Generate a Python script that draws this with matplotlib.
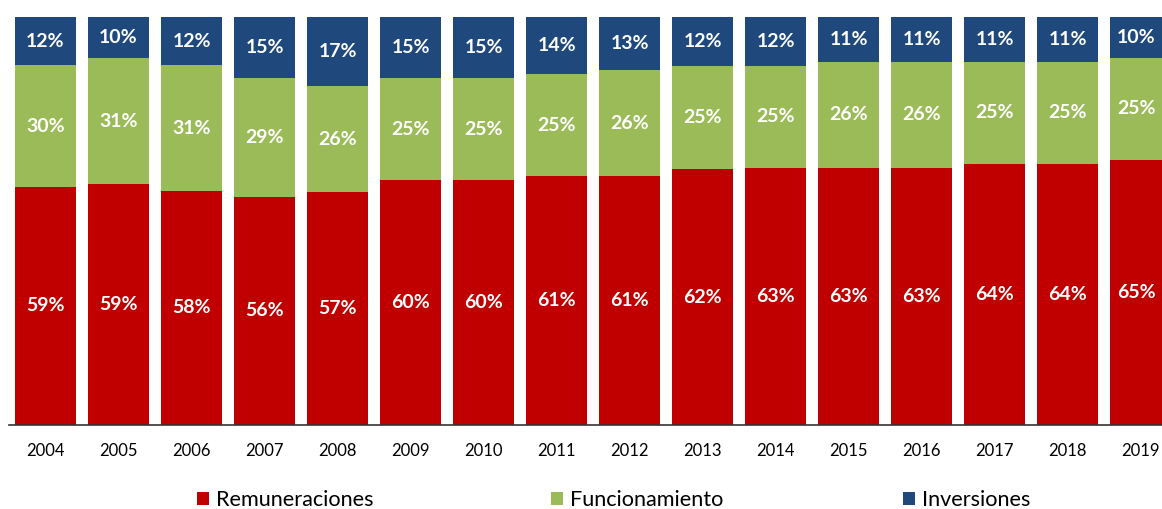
import matplotlib.pyplot as plt
import numpy as np

plt.rcParams['font.family'] = ['Lato', 'DejaVu Sans']

years = ['2004', '2005', '2006', '2007', '2008', '2009', '2010', '2011',
         '2012', '2013', '2014', '2015', '2016', '2017', '2018', '2019']
remuneraciones = [59, 59, 58, 56, 57, 60, 60, 61, 61, 62, 63, 63, 63, 64, 64, 65]
funcionamiento = [30, 31, 31, 29, 26, 25, 25, 25, 26, 25, 25, 26, 26, 25, 25, 25]
inversiones = [12, 10, 12, 15, 17, 15, 15, 14, 13, 12, 12, 11, 11, 11, 11, 10]

rem = np.array(remuneraciones, dtype=float)
fun = np.array(funcionamiento, dtype=float)
inv = np.array(inversiones, dtype=float)
total = rem + fun + inv
# bars are shares of 100%, so scale each column to a common top
rem_h = rem / total * 100
fun_h = fun / total * 100
inv_h = inv / total * 100

fig = plt.figure(figsize=(11.62, 5.09), dpi=100)
ax = fig.add_axes([9 / 1162, 84 / 509, 1 - 9 / 1162, 408 / 509])

x = np.arange(len(years))
w = 0.84
b1 = ax.bar(x, rem_h, w, color='#C00000', label='Remuneraciones')
b2 = ax.bar(x, fun_h, w, bottom=rem_h, color='#9BBB59', label='Funcionamiento')
b3 = ax.bar(x, inv_h, w, bottom=rem_h + fun_h, color='#1F497D', label='Inversiones')

for bars, vals in [(b1, rem), (b2, fun), (b3, inv)]:
    ax.bar_label(bars, labels=['%d%%' % v for v in vals], label_type='center',
                 color='white', fontweight='bold', fontsize=14)

ax.set_xlim(-0.5, 15.29)
ax.set_ylim(0, 100)
ax.set_xticks(x)
ax.set_xticklabels(years, fontsize=12)
ax.tick_params(axis='x', length=0, pad=13)
ax.set_yticks([])
for s in ['top', 'right', 'left']:
    ax.spines[s].set_visible(False)
ax.spines['bottom'].set_color('#333333')
ax.spines['bottom'].set_linewidth(1.2)

for bars, xpos in [(b1, 197 / 1162), (b2, 551 / 1162), (b3, 903 / 1162)]:
    fig.legend(handles=[bars], loc='center left', bbox_to_anchor=(xpos, 9 / 509),
               frameon=False, fontsize=15.6, handlelength=0.55, handleheight=0.55,
               handletextpad=0.32, borderaxespad=0, borderpad=0)

fig.savefig('out.png', dpi=100)
